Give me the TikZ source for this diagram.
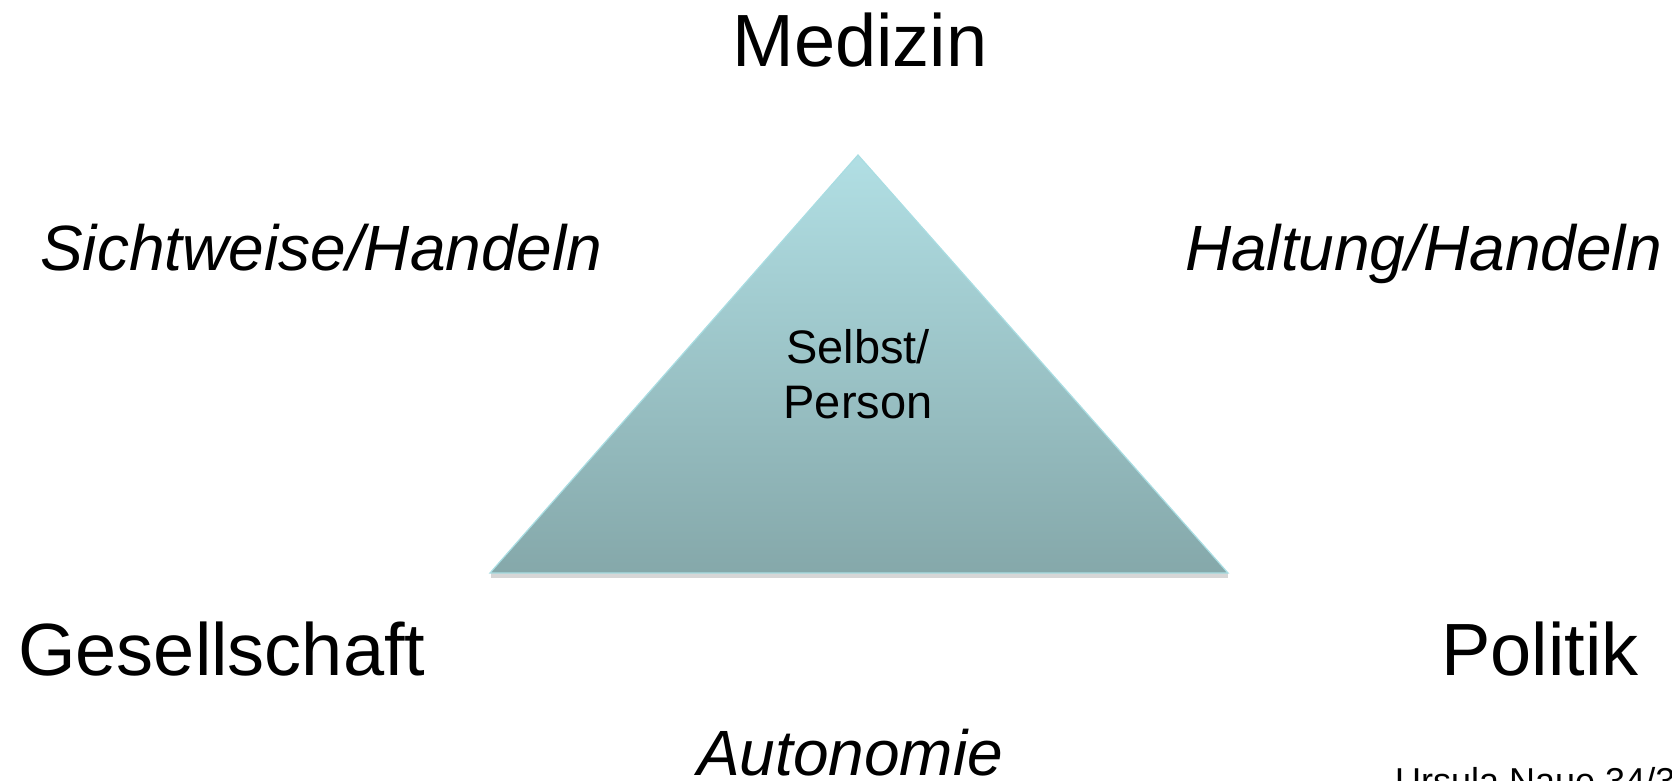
\documentclass[tikz,border=0pt]{standalone}
\usepackage{fontspec}
\setmainfont{Liberation Sans}
\definecolor{tritop}{HTML}{B1DFE4}
\definecolor{tribot}{HTML}{85A8AA}
\definecolor{triedge}{HTML}{A9DDE2}
\definecolor{shadowgray}{HTML}{D6D6D6}
\begin{document}
\begin{tikzpicture}[x=1pt,y=-1pt,
  big/.style={inner sep=0pt,anchor=base,font=\fontsize{74}{80}\selectfont},
  ital/.style={inner sep=0pt,anchor=base,font=\fontsize{64}{70}\selectfont\itshape},
  inner/.style={inner sep=0pt,anchor=base,font=\fontsize{47}{55}\selectfont},
  foot/.style={inner sep=0pt,anchor=base west,font=\fontsize{36}{40}\selectfont}]
\useasboundingbox (0,0) rectangle (1672,781);
% triangle shadow
\fill[shadowgray] (491,573) rectangle (1228,578);
% triangle
\coordinate (apex) at (858,155);
\coordinate (bl) at (490,573);
\coordinate (br) at (1228,573);
\shade[top color=tritop,bottom color=tribot,draw=triedge,line width=1.2pt,line join=miter]
  (apex) -- (br) -- (bl) -- cycle;
% labels
\node[big] (med) at (860,67) {Medizin};
\node[big,anchor=base west] (ges) at (18,675) {Gesellschaft};
\node[big,anchor=base east] (pol) at (1639,675) {Politik};
\node[ital,anchor=base west] (sicht) at (40,270) {Sichtweise/Handeln};
\node[ital,anchor=base east] (halt) at (1662,270) {Haltung/Handeln};
\node[ital] (auto) at (850,775) {Autonomie};
\node[inner] (selbst) at (858,363) {Selbst/};
\node[inner] (person) at (858,418) {Person};
\node[foot] (ursula) at (1395,793) {Ursula Naue 34/3};
\end{tikzpicture}
\end{document}
